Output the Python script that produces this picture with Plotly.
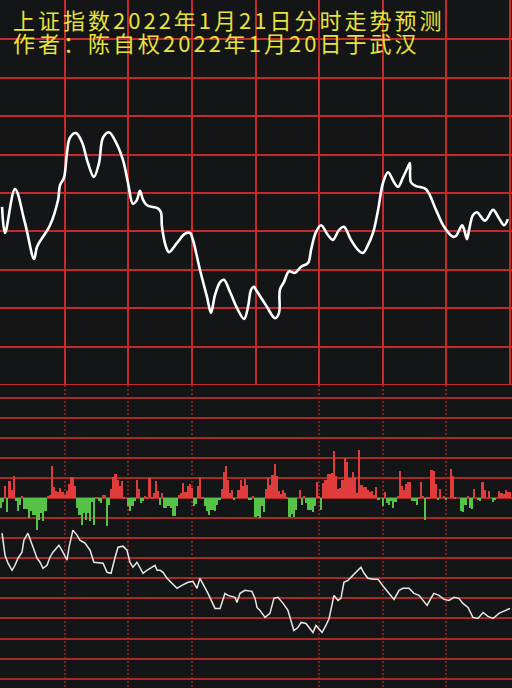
import plotly.graph_objects as go

# ---------------- data ----------------
title_line1 = "上证指数2022年1月21日分时走势预测"
title_line2 = "作者：陈自权2022年1月20日于武汉"

# top panel: predicted index path (minute of session, index level)
price_minutes = [0.5, 1.9, 6.6, 11.3, 15.6, 17.0, 23.1, 26.9, 27.8, 29.7, 31.1, 32.5, 35.4, 38.2, 41.0,
                 43.8, 46.2, 48.1, 50.9, 54.2, 57.5, 59.9, 62.2, 64.1, 65.5, 67.0, 68.8, 74.0, 75.4,
                 75.9, 77.8, 79.2, 83.0, 86.8, 89.1, 90.5, 93.8, 97.1, 99.0, 100.9, 103.3, 105.1,
                 108.0, 111.3, 114.6, 116.5, 117.9, 119.3, 120.2, 124.9, 129.2, 131.1, 131.5, 133.4,
                 135.8, 138.6, 141.5, 144.8, 146.2, 148.5, 150.9, 154.2, 156.5, 159.4, 161.7, 165.0,
                 168.3, 170.7, 173.0, 175.4, 177.8, 180.1, 182.5, 185.3, 187.2, 189.5, 191.9, 192.8,
                 193.3, 195.7, 200.4, 205.1, 208.9, 213.1, 214.5, 217.4, 218.3, 219.7, 220.7, 222.5,
                 224.4, 228.2, 232.0, 234.8, 237.2, 239.0]
price_values = [3483.2, 3479.8, 3485.5, 3481.1, 3476.4, 3478.0, 3480.8, 3484.1, 3486.0, 3487.0, 3490.2,
                3492.2, 3492.8, 3491.6, 3488.9, 3487.1, 3488.9, 3492.2, 3492.9, 3491.6, 3489.3, 3486.3,
                3483.6, 3484.1, 3485.3, 3484.1, 3483.4, 3483.0, 3482.5, 3480.6, 3478.0, 3477.3, 3478.5,
                3479.7, 3479.8, 3478.9, 3475.0, 3471.5, 3469.4, 3471.7, 3473.4, 3473.7, 3472.1, 3470.0,
                3468.6, 3470.2, 3472.4, 3472.8, 3472.4, 3470.4, 3468.7, 3469.4, 3472.4, 3473.4, 3474.8,
                3474.6, 3475.4, 3475.9, 3477.6, 3479.9, 3480.8, 3479.5, 3478.9, 3480.2, 3480.6, 3478.9,
                3477.6, 3477.2, 3478.2, 3479.8, 3482.8, 3486.3, 3487.7, 3486.4, 3485.8, 3487.0, 3488.4,
                3488.9, 3486.4, 3485.9, 3485.5, 3482.8, 3480.6, 3479.3, 3479.4, 3480.8, 3480.3, 3479.0,
                3480.2, 3482.1, 3482.5, 3481.4, 3482.8, 3481.7, 3480.8, 3481.6]

# bottom panel: per-minute net volume bars (minute 0..240)
bar_minutes = list(range(241))
net_volume = [-10, -4, 12, -14, 17, 8, 22, -3, -13, -7,
              2, -11, -11, -20, -13, -17, -17, -32, -22, -15,
              -23, -13, 2, 3, 32, 11, 7, 6, 10, 6,
              3, 7, 14, 21, 21, 12, -10, -17, -27, -15,
              -22, -15, -23, -4, -27, 1, -3, -5, 3, 3,
              -28, -7, 9, 21, 24, 18, 12, 17, 1, 0,
              -8, -13, -8, -3, 18, 9, -5, -3, 2, 1,
              20, 1, 5, 17, 7, -7, 5, -10, -10, -8,
              -10, -18, -18, -8, 3, 5, 15, 6, 12, 14,
              10, -8, -6, 12, 21, 1, -8, -13, -17, -12,
              -12, -13, -7, -2, 9, 26, 32, 18, 5, 8,
              -2, 0, 8, 18, 12, 19, 13, -1, -2, 2,
              -19, -18, -20, -8, -14, 9, 21, 13, 23, 34,
              22, 7, 4, 8, 5, 1, -19, -16, -19, -12,
              0, 8, -7, 2, -5, -12, -12, -14, -8, 16,
              2, -12, 15, 18, 24, 24, 25, 47, 22, 9,
              10, 18, 40, 36, 20, 20, 26, 21, 5, 48,
              13, 11, 11, 8, 6, 7, 3, 11, -2, 0,
              -8, 6, -5, -7, -3, -10, -4, 2, 27, 12,
              8, 14, 16, 16, -3, -3, -7, 1, 16, 2,
              -22, 1, 1, 28, 27, 14, -2, 9, 0, 2,
              -2, 0, 29, 22, 1, 0, 0, -13, -14, -7,
              2, -10, -11, 9, 0, -2, -3, 16, 8, 0,
              7, 0, -4, -2, 0, 7, 5, 4, 8, 6,
              6]

# bottom panel: thin indicator line
ind_minutes = [0.5, 1.9, 3.3, 5.2, 6.6, 8.0, 9.9, 10.8, 12.7, 15.1, 17.0, 18.4, 19.8, 21.7, 23.1,
               24.5, 27.3, 29.2, 31.1, 32.1, 33.9, 35.8, 37.2, 39.6, 42.0, 43.8, 46.7, 48.1, 50.0,
               51.9, 53.8, 55.2, 57.5, 59.4, 60.8, 62.2, 64.1, 65.5, 67.0, 68.8, 71.2, 72.6, 73.6,
               75.0, 76.4, 78.3, 80.6, 83.0, 85.3, 88.2, 90.5, 92.4, 93.8, 95.2, 97.6, 100.9, 103.3,
               105.6, 107.0, 110.3, 111.3, 112.7, 115.0, 118.3, 119.8, 120.7, 122.1, 124.5, 126.8,
               128.7, 130.6, 133.0, 135.3, 136.7, 138.1, 140.0, 141.5, 143.8, 145.2, 147.1, 148.5,
               149.9, 151.4, 153.2, 154.7, 157.0, 158.9, 160.3, 161.7, 163.6, 166.0, 167.4, 169.7,
               171.2, 173.0, 175.4, 177.8, 180.6, 182.9, 185.3, 187.7, 189.5, 192.4, 194.7, 197.1,
               199.0, 200.9, 202.7, 204.1, 206.5, 208.9, 211.2, 213.6, 215.9, 217.8, 220.2, 222.5,
               224.9, 227.3, 229.6, 232.0, 234.8, 237.2, 240.0]
ind_values = [-35, -57, -65, -72, -67, -60, -54, -42, -35, -50, -60, -64, -70, -67, -59,
              -54, -47, -54, -62, -49, -32, -37, -42, -45, -52, -64, -65, -65, -74,
              -75, -59, -49, -48, -52, -64, -69, -64, -69, -75, -72, -69, -67, -72,
              -72, -74, -80, -85, -90, -87, -84, -83, -90, -80, -85, -95, -110, -110,
              -95, -97, -99, -104, -95, -92, -93, -100, -109, -112, -119, -115,
              -100, -99, -105, -112, -122, -132, -129, -124, -125, -129, -134, -127,
              -130, -134, -127, -120, -97, -102, -100, -84, -82, -77, -74, -69,
              -75, -80, -81, -81, -89, -95, -101, -92, -90, -90, -95, -97,
              -102, -107, -100, -95, -97, -101, -102, -99, -100, -105, -109, -119,
              -120, -114, -118, -120, -115, -113, -110]

top_grid_minutes = [0, 30, 60, 90, 120, 150, 180, 210, 240]
bottom_dotted_minutes = [30, 60, 90, 150, 180, 210]
bottom_solid_minutes = [0, 120, 240]

# ---------------- style ----------------
BG = "#141517"
RED = "#c42a2c"
RED_DARK = "#a82828"
RED_DOT = "#7a2424"
YELLOW = "#e8e23c"
GREEN = "#56c247"
BAR_RED = "#e03c3c"

fig = go.Figure()

fig.add_trace(go.Scatter(
    x=price_minutes, y=price_values, mode="lines",
    line=dict(color="#ffffff", width=2.6, shape="spline", smoothing=1.0),
    xaxis="x", yaxis="y", hoverinfo="skip"))

bar_colors = [BAR_RED if v >= 0 else GREEN for v in net_volume]
fig.add_trace(go.Bar(
    x=bar_minutes, y=net_volume, width=1.0,
    marker=dict(color=bar_colors, line=dict(width=0)),
    xaxis="x2", yaxis="y2", hoverinfo="skip"))

fig.add_trace(go.Scatter(
    x=ind_minutes, y=ind_values, mode="lines",
    line=dict(color="#e8e8e8", width=1.5),
    xaxis="x2", yaxis="y2", hoverinfo="skip"))

xr = [-0.4715, 240.94]
common_axis = dict(showticklabels=False, ticks="", zeroline=False, showline=False, fixedrange=True)

fig.update_layout(
    width=512, height=688,
    margin=dict(l=0, r=0, t=0, b=0, pad=0),
    paper_bgcolor=BG, plot_bgcolor=BG,
    showlegend=False, bargap=0,
    xaxis=dict(domain=[0, 1], range=xr, anchor="y", tickmode="array", tickvals=top_grid_minutes,
               showgrid=True, gridcolor=RED, gridwidth=2, **common_axis),
    yaxis=dict(domain=[0.43605, 1], range=[3459.61, 3510.13], anchor="x", tick0=3460, dtick=5,
               showgrid=True, gridcolor=RED, gridwidth=2, **common_axis),
    xaxis2=dict(domain=[0, 1], range=xr, anchor="y2", tickmode="array", tickvals=bottom_dotted_minutes,
                showgrid=True, gridcolor=RED_DOT, gridwidth=2, griddash="2px,2px", **common_axis),
    yaxis2=dict(domain=[0, 0.44041], range=[-189.3, 112.6], anchor="x2", tick0=0, dtick=20,
                showgrid=True, gridcolor=RED_DARK, gridwidth=2, **common_axis),
)

for m in bottom_solid_minutes:
    fig.add_shape(type="line", xref="x2", yref="y2 domain", x0=m, x1=m, y0=0, y1=1,
                  line=dict(color=RED_DOT, width=2), layer="below")

span = '<span style="font-size:22px;letter-spacing:3px">{}</span>'
title_text = span.format(title_line1) + "<br>" + span.format(title_line2)
fig.add_annotation(text=title_text, xref="paper", yref="paper", x=12 / 512, y=1 - 2 / 688,
                   xanchor="left", yanchor="top", align="left", showarrow=False, borderpad=0,
                   font=dict(family="Noto Sans CJK SC", size=18, color=YELLOW))

post = ("document.documentElement.style.margin='0';document.body.style.margin='0';"
        "document.body.style.padding='0';document.body.style.overflow='hidden';"
        "var gd=document.getElementById('{plot_id}');"
        "Plotly.relayout(gd,{width:512,height:688});")

fig.write_html("out.html", post_script=post, config={"responsive": False, "displayModeBar": False})
